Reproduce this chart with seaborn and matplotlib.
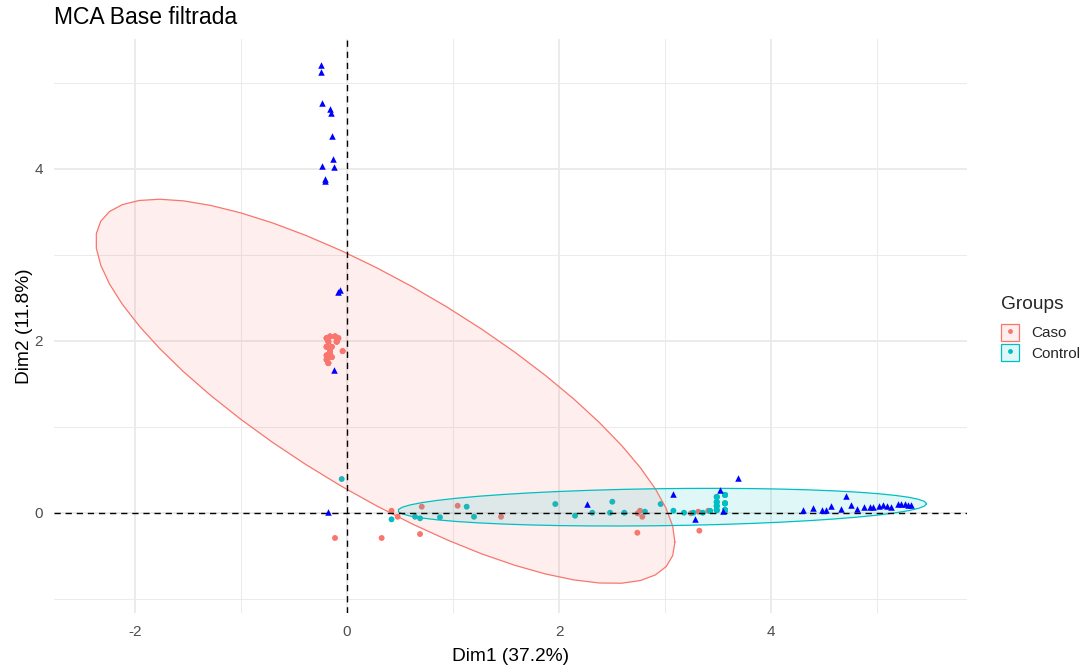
import numpy as np
import matplotlib
matplotlib.use("Agg")
import matplotlib.pyplot as plt
import seaborn as sns
import pandas as pd
from matplotlib.patches import Rectangle
from matplotlib.lines import Line2D
from matplotlib.legend_handler import HandlerTuple

# ---------------- data ----------------
# Individuals of group "Caso": position and number of overlapping individuals
caso_x = [-0.192, -0.160, -0.113, -0.082, -0.097, -0.176, -0.192, -0.144, -0.160, -0.192,
          -0.144, -0.192, -0.176, -0.041,
          -0.113, 0.327, 0.420, 0.478, 0.705, 0.689, 1.044, 1.453, 2.742, 2.764,
          2.786, 2.739, 3.245, 3.314, 3.408, 3.324]
caso_y = [2.03, 2.05, 2.05, 2.03, 1.99, 1.99, 1.93, 1.93, 1.87, 1.83,
          1.81, 1.78, 1.74, 1.88,
          -0.294, -0.294, 0.023, -0.047, 0.070, -0.248, 0.081, -0.047, -0.007, 0.023,
          -0.047, -0.233, -0.007, 0.012, 0.023, -0.209]
caso_n = [4, 3, 4, 3, 4, 3, 4, 3, 4, 3,
          3, 3, 3, 2,
          1, 1, 1, 1, 1, 1, 1, 1, 1, 1,
          1, 1, 1, 1, 1, 1]

# Individuals of group "Control"
control_x = [-0.050, 0.420, 0.642, 0.689, 0.877, 1.129, 1.198, 1.965, 2.151, 2.314,
             2.481, 2.503, 2.616, 2.811, 2.959, 3.079, 3.179, 3.267, 3.356, 3.425,
             3.488, 3.488, 3.488, 3.488, 3.566, 3.566, 3.566]
control_y = [0.392, -0.077, -0.047, -0.065, -0.053, 0.070, -0.047, 0.101, -0.035, 0.000,
             0.000, 0.128, 0.000, 0.012, 0.101, 0.023, 0.000, 0.000, 0.000, 0.020,
             0.030, 0.078, 0.124, 0.183, 0.207, 0.109, 0.030]
control_n = [1, 1, 1, 1, 1, 1, 1, 1, 1, 1,
             1, 1, 1, 1, 1, 1, 1, 1, 1, 2,
             3, 3, 3, 3, 4, 4, 12]

# Variable categories (blue triangles)
var_x = [-0.248, -0.248, -0.236, -0.148, -0.160, -0.142, -0.135, -0.233, -0.120, -0.203,
         -0.203, -0.082, -0.066, -0.125, -0.182,
         2.260, 3.080, 3.280, 3.520, 3.550, 3.690,
         4.300, 4.400, 4.480, 4.520, 4.570, 4.660, 4.710, 4.750, 4.810, 4.880,
         4.930, 4.960, 5.020, 5.060, 5.090, 5.130, 5.200, 5.230, 5.260, 5.290, 5.320]
var_y = [5.21, 5.13, 4.77, 4.65, 4.69, 4.38, 4.11, 4.03, 4.02, 3.88,
         3.86, 2.57, 2.59, 1.66, 0.01,
         0.097, 0.22, -0.07, 0.265, 0.015, 0.40,
         0.03, 0.05, 0.035, 0.035, 0.08, 0.047, 0.20, 0.09, 0.047, 0.07,
         0.07, 0.07, 0.08, 0.085, 0.08, 0.07, 0.10, 0.10, 0.10, 0.095, 0.09]

groups = ["Caso", "Control"]
group_colors = ["#F8766D", "#00BFC4"]
title = "MCA Base filtrada"
xlab = "Dim1 (37.2%)"
ylab = "Dim2 (11.8%)"
x_breaks = [-2, 0, 2, 4]
y_breaks = [0, 2, 4]

# ---------------- build frames ----------------
ind = pd.DataFrame({
    "x": np.concatenate([np.repeat(caso_x, caso_n), np.repeat(control_x, control_n)]),
    "y": np.concatenate([np.repeat(caso_y, caso_n), np.repeat(control_y, control_n)]),
    "Group": ["Caso"] * int(np.sum(caso_n)) + ["Control"] * int(np.sum(control_n)),
})
var = pd.DataFrame({"x": var_x, "y": var_y})
palette = dict(zip(groups, group_colors))

FONT = "Liberation Sans"
sns.set_theme(style="white")
plt.rcParams["font.family"] = [FONT, "DejaVu Sans"]
plt.rcParams["axes.unicode_minus"] = False

fig = plt.figure(figsize=(10.88, 6.66), dpi=100)
ax = fig.add_axes([54 / 1088, 1 - 612.7 / 666, (966.7 - 54) / 1088, (612.7 - 39) / 666])
ax.set_facecolor("white")
for s in ax.spines.values():
    s.set_visible(False)

ax.set_xlim(-2.764, 5.846)
ax.set_ylim(-1.163, 5.51)

# grid (major + minor)
grid_col = "#EBEBEB"
for v in [-1, 1, 3, 5]:
    ax.axvline(v, color=grid_col, lw=0.75, zorder=0)
for v in [-1, 1, 3, 5]:
    ax.axhline(v, color=grid_col, lw=0.75, zorder=0)
for v in x_breaks:
    ax.axvline(v, color=grid_col, lw=1.4, zorder=0)
for v in y_breaks:
    ax.axhline(v, color=grid_col, lw=1.4, zorder=0)


def norm_ellipse(x, y, level=0.95, segments=51):
    """Same construction as ggplot2::stat_ellipse(type = 'norm')."""
    x = np.asarray(x, float)
    y = np.asarray(y, float)
    n = len(x)
    center = np.array([x.mean(), y.mean()])
    shape = np.cov(x, y)
    chol = np.linalg.cholesky(shape).T
    d = n - 1
    qf = d / 2 * ((1 - level) ** (-2 / d) - 1)   # F(2, d) quantile
    radius = np.sqrt(2 * qf)
    t = np.linspace(0, 2 * np.pi, segments + 1)
    unit = np.column_stack([np.cos(t), np.sin(t)])
    return center + radius * unit @ chol


# individuals
sns.scatterplot(data=ind, x="x", y="y", hue="Group", palette=palette, s=18,
                linewidth=0, legend=False, ax=ax, zorder=2)

# ellipses
for g, c in zip(groups, group_colors):
    sub = ind[ind["Group"] == g]
    e = norm_ellipse(sub["x"], sub["y"])
    ax.fill(e[:, 0], e[:, 1], color=c, alpha=0.12, lw=0, zorder=3)
    ax.plot(e[:, 0], e[:, 1], color=c, lw=0.9, zorder=4)

# reference lines
ax.axhline(0, color="black", lw=1.0, ls=(0, (4.5, 3.5)), zorder=5)
ax.axvline(0, color="black", lw=1.0, ls=(0, (4.5, 3.5)), zorder=5)

# variable categories
sns.scatterplot(data=var, x="x", y="y", marker="^", color="#0000FF", s=22,
                linewidth=0, ax=ax, zorder=6)

ax.set_xticks(x_breaks)
ax.set_yticks(y_breaks)
ax.tick_params(axis="both", length=0, labelsize=11, labelcolor="#4D4D4D")
ax.tick_params(axis="x", pad=9)
ax.tick_params(axis="y", pad=8)
ax.set_xlabel(xlab, fontsize=13.75, color="black", labelpad=6)
ax.set_ylabel(ylab, fontsize=13.75, color="black", labelpad=1)
ax.grid(False)

fig.text(54 / 1088, 1 - 18 / 666, title, fontsize=16.5, ha="left", va="center", color="black")

# legend
handles = []
for g, c in zip(groups, group_colors):
    box = Rectangle((0, 0), 1, 1, facecolor=matplotlib.colors.to_rgba(c, 0.12), edgecolor=c, lw=0.9)
    dot = Line2D([], [], marker="o", ls="", color=c, markersize=3.5, markeredgewidth=0)
    handles.append((box, dot))
leg = fig.legend(handles, groups, title="Groups", loc="upper left",
                 bbox_to_anchor=(990 / 1088, 1 - 285 / 666), frameon=False,
                 handler_map={tuple: HandlerTuple(ndivide=1, pad=0)},
                 fontsize=11, title_fontsize=13.75, handlelength=1.2, handleheight=1.35,
                 handletextpad=0.8, labelspacing=0.22, borderpad=0.2)
leg._legend_box.align = "left"
leg._legend_box.sep = 8.0

fig.savefig("out.png", dpi=100)
